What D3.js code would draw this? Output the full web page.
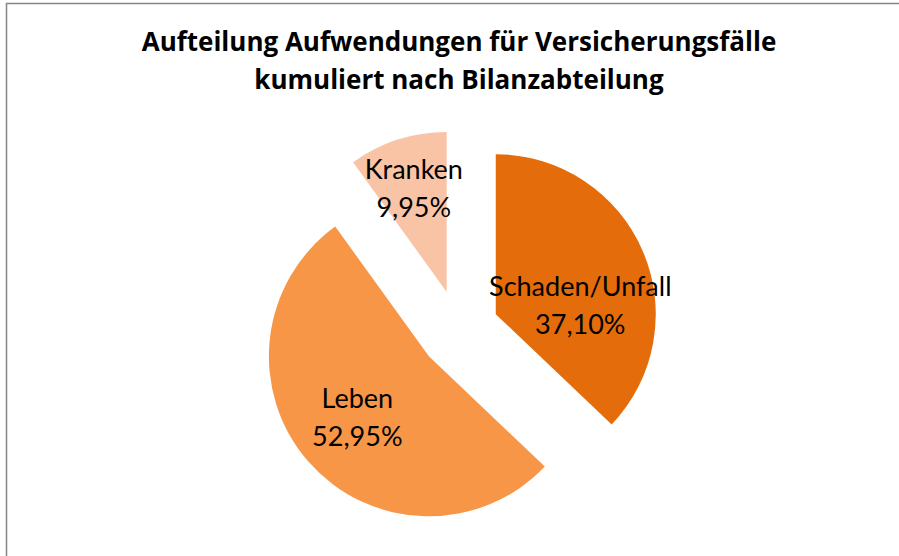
<!DOCTYPE html>
<html>
<head>
<meta charset="utf-8">
<script src="https://cdn.jsdelivr.net/npm/d3@7"></script>
<style>
  body { margin: 0; background: #fff; }
  text { font-family: Lato, "Open Sans", sans-serif; }
</style>
</head>
<body>
<svg id="pie-chart"></svg>
<script>
const categories = ["Schaden/Unfall", "Leben", "Kranken"];
const shares = [37.10, 52.95, 9.95];
const valueLabels = ["37,10%", "52,95%", "9,95%"];
const colors = ["#E46C0A", "#F79646", "#F9C4A6"];
const titleLines = ["Aufteilung Aufwendungen für Versicherungsfälle", "kumuliert nach Bilanzabteilung"];

const svgWidth = 899, svgHeight = 556;
const cx = 459, cy = 330, radius = 160, explode = 40;

const svg = d3.select("#pie-chart")
  .attr("width", svgWidth)
  .attr("height", svgHeight);

// chart frame (right and bottom edges fall outside the window)
svg.append("rect")
  .attr("x", 6.5)
  .attr("y", 3.5)
  .attr("width", svgWidth + 20)
  .attr("height", svgHeight + 20)
  .attr("fill", "#fff")
  .attr("stroke", "#868686")
  .attr("stroke-width", 1.5);

const data = categories.map((c, i) => ({ name: c, value: shares[i], label: valueLabels[i], color: colors[i] }));

const pie = d3.pie()
  .value(d => d.value)
  .sort(null);

const arc = d3.arc()
  .innerRadius(0)
  .outerRadius(radius);

const arcs = pie(data);

const g = svg.append("g")
  .attr("transform", `translate(${cx},${cy})`);

function offset(d, dist) {
  const a = (d.startAngle + d.endAngle) / 2;
  return [Math.sin(a) * dist, -Math.cos(a) * dist];
}

const slices = g.selectAll(".slice")
  .data(arcs)
  .enter()
  .append("g")
  .attr("class", "slice")
  .attr("transform", d => `translate(${offset(d, explode)})`);

slices.append("path")
  .attr("d", arc)
  .attr("fill", d => d.data.color);

// label placement, roughly like Excel "best fit"
const labelNudge = { "Schaden/Unfall": [0, 29], "Leben": [0, 0], "Kranken": [0, 0] };
const labelDist = { "Schaden/Unfall": 92, "Leben": 95, "Kranken": 107 };

const labels = slices.append("text")
  .attr("text-anchor", "middle")
  .attr("fill", "#000")
  .style("font-size", "27px")
  .attr("transform", d => {
    const p = offset(d, labelDist[d.data.name]);
    const n = labelNudge[d.data.name];
    return `translate(${p[0] + n[0]},${p[1] + n[1]})`;
  });

labels.append("tspan")
  .attr("x", 0)
  .attr("dy", "-0.4em")
  .text(d => d.data.name);

labels.append("tspan")
  .attr("x", 0)
  .attr("dy", "1.4em")
  .text(d => d.data.label);

svg.selectAll(".title")
  .data(titleLines)
  .enter()
  .append("text")
  .attr("class", "title")
  .attr("x", 459)
  .attr("y", (d, i) => 51 + i * 38)
  .attr("text-anchor", "middle")
  .style("font-family", "'Open Sans', sans-serif")
  .style("font-size", "26px")
  .style("font-weight", "bold")
  .attr("fill", "#000")
  .text(d => d);
</script>
</body>
</html>
